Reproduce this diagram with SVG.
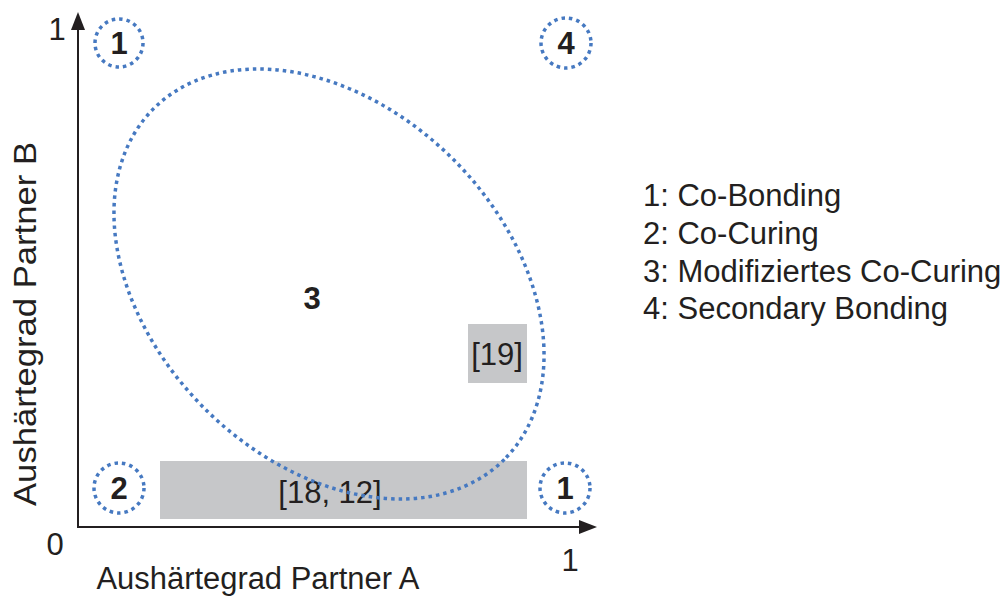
<svg xmlns="http://www.w3.org/2000/svg" width="1005" height="597" viewBox="0 0 1005 597">
<defs>
<style>
.t{font-family:"Liberation Sans",Arial,sans-serif;font-size:31px;fill:#231f20}
.b{font-family:"Liberation Sans",Arial,sans-serif;font-size:31px;font-weight:bold;fill:#231f20;text-anchor:middle}
.dot{fill:none;stroke:#4679c1;stroke-width:3.5;stroke-dasharray:3.5 4}
.box{fill:#c6c7c9}
.ax{stroke:#231f20;stroke-width:2;fill:none}
.ah{fill:#231f20}
</style>
</defs>
<g id="axes">
<line class="ax" x1="78" y1="528" x2="78" y2="28"/>
<polygon class="ah" points="78,12 71,30 85,30"/>
<line class="ax" x1="77" y1="527" x2="580" y2="527"/>
<polygon class="ah" points="597,527 579,520 579,534"/>
<text class="t" x="57" y="40" text-anchor="middle">1</text>
<text class="t" x="55" y="555" text-anchor="middle">0</text>
<text class="t" x="570" y="571" text-anchor="middle">1</text>
<text class="t" x="258" y="589" text-anchor="middle" textLength="323" lengthAdjust="spacingAndGlyphs">Aushärtegrad Partner A</text>
<text class="t" transform="translate(36,324) rotate(-90)" text-anchor="middle" style="font-size:32px" textLength="364" lengthAdjust="spacingAndGlyphs">Aushärtegrad Partner B</text>
</g>
<g id="ref1812">
<rect class="box" x="160" y="461" width="367" height="58"/>
<text class="t" x="330" y="503" text-anchor="middle">[18, 12]</text>
</g>
<g id="ref19">
<rect class="box" x="468" y="324" width="59" height="59"/>
<text class="t" x="497" y="365" text-anchor="middle">[19]</text>
</g>
<g id="region3">
<ellipse class="dot" cx="329" cy="284" rx="248" ry="176" transform="rotate(45 329 284)"/>
<text class="b" x="312" y="309">3</text>
</g>
<g id="region1a">
<circle class="dot" cx="119" cy="43" r="24"/>
<text class="b" x="119" y="54">1</text>
</g>
<g id="region4">
<circle class="dot" cx="566" cy="43" r="25"/>
<text class="b" x="566" y="54">4</text>
</g>
<g id="region2">
<circle class="dot" cx="119" cy="488" r="25"/>
<text class="b" x="119" y="499">2</text>
</g>
<g id="region1b">
<circle class="dot" cx="565" cy="488" r="25"/>
<text class="b" x="565" y="499">1</text>
</g>
<g id="legend">
<text class="t" x="643" y="206">1: Co-Bonding</text>
<text class="t" x="643" y="244">2: Co-Curing</text>
<text class="t" x="643" y="282">3: Modifiziertes Co-Curing</text>
<text class="t" x="643" y="319">4: Secondary Bonding</text>
</g>
</svg>
